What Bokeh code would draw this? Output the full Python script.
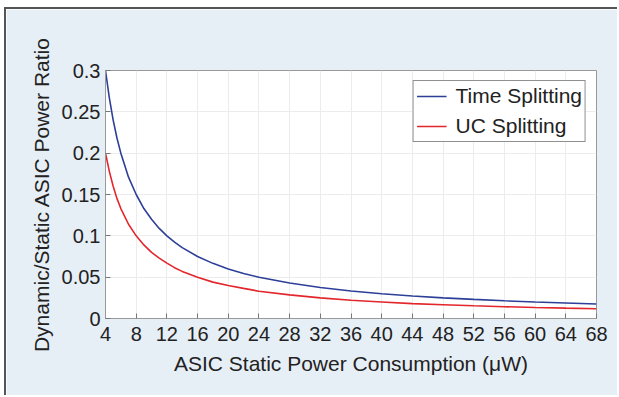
from bokeh.plotting import figure
from bokeh.models import Range1d, FixedTicker, Legend, LegendItem
from bokeh.embed import file_html
from bokeh.resources import INLINE

x_vals = [4, 4.5, 5, 5.5, 6, 7, 8, 9, 10, 11, 12, 13, 14, 16, 18, 20, 22, 24, 28, 32, 36, 40, 44, 48, 52, 56, 60, 64, 68]
time_split = [0.300, 0.267, 0.240, 0.218, 0.200, 0.171, 0.150, 0.133, 0.120, 0.109, 0.100, 0.0923, 0.0857,
              0.075, 0.0667, 0.060, 0.0545, 0.050, 0.0429, 0.0375, 0.0333, 0.030, 0.0273, 0.025, 0.0231,
              0.0214, 0.020, 0.0188, 0.0176]
uc_split = [0.200, 0.178, 0.160, 0.145, 0.133, 0.114, 0.100, 0.089, 0.080, 0.073, 0.067, 0.0615, 0.057,
            0.050, 0.044, 0.040, 0.0364, 0.033, 0.0286, 0.025, 0.022, 0.020, 0.018, 0.0167, 0.0154,
            0.0143, 0.0133, 0.0125, 0.0118]
x_ticks = list(range(4, 69, 4))
y_ticks = [0, 0.05, 0.1, 0.15, 0.2, 0.25, 0.3]

FONT = "Liberation Sans"
BG = "#e7eff6"

p = figure(width=613, height=388, output_backend="svg", toolbar_location=None,
           x_range=Range1d(4, 68), y_range=Range1d(0, 0.3),
           min_border_left=99, min_border_top=61, min_border_right=23, min_border_bottom=79)
p.styles = {"margin-left": "4px", "margin-top": "7px",
            "border-left": "2px solid #555555", "border-top": "2px solid #555555"}
p.border_fill_color = BG
p.background_fill_color = "white"
p.outline_line_color = "#999999"

r1 = p.line(x_vals, time_split, line_color="#2d3f98", line_width=1.6)
r2 = p.line(x_vals, uc_split, line_color="#e3262b", line_width=1.6)

p.xaxis.ticker = FixedTicker(ticks=x_ticks)
p.yaxis.ticker = FixedTicker(ticks=y_ticks)
p.yaxis.major_label_overrides = {0: "0", 0.05: "0.05", 0.1: "0.1", 0.15: "0.15", 0.2: "0.2", 0.25: "0.25", 0.3: "0.3"}

for ax in (p.xaxis[0], p.yaxis[0]):
    ax.axis_line_color = "#999999"
    ax.major_tick_line_color = "#777777"
    ax.major_tick_in = 5
    ax.major_tick_out = 0
    ax.minor_tick_line_color = None
    ax.major_label_text_font = FONT
    ax.major_label_text_font_size = "20px"
    ax.major_label_text_color = "#222222"
    ax.axis_label_text_font = FONT
    ax.axis_label_text_font_style = "normal"
    ax.axis_label_text_color = "#222222"

p.xaxis.axis_label = "ASIC Static Power Consumption (μW)"
p.yaxis.axis_label = "Dynamic/Static ASIC Power Ratio"
p.xaxis.axis_label_text_font_size = "21px"
p.yaxis.axis_label_text_font_size = "21px"
p.xaxis.major_label_standoff = 8
p.yaxis.major_label_standoff = 5
p.xaxis.axis_label_standoff = 8
p.yaxis.axis_label_standoff = 6

p.xgrid.grid_line_color = "#ececec"
p.ygrid.grid_line_color = "#ececec"

legend = Legend(items=[LegendItem(label="Time Splitting", renderers=[r1]),
                       LegendItem(label="UC Splitting", renderers=[r2])],
                location="top_right")
legend.label_text_font = FONT
legend.label_text_font_size = "21px"
legend.label_text_color = "#222222"
legend.border_line_color = "#222222"
legend.border_line_width = 1
legend.background_fill_color = "white"
legend.glyph_width = 30
legend.glyph_height = 20
legend.label_height = 20
legend.label_standoff = 9
legend.spacing = 6
legend.padding = 3
legend.margin = 10
p.add_layout(legend)

open("out.html", "w").write(file_html(p, INLINE))
